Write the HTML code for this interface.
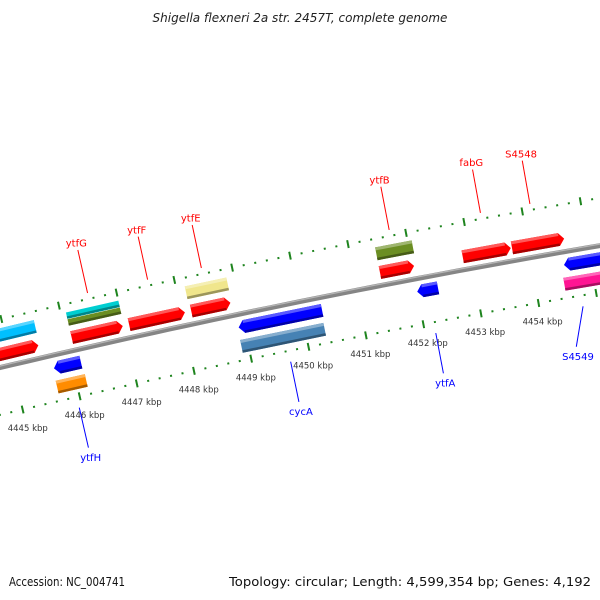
<!DOCTYPE html>
<html><head><meta charset="utf-8"><style>
html,body{margin:0;padding:0;background:#fff;width:600px;height:600px;overflow:hidden}
svg{display:block;font-family:"DejaVu Sans","Liberation Sans",sans-serif}
</style></head><body>
<svg id="map" width="600" height="600" viewBox="0 0 600 600" xmlns="http://www.w3.org/2000/svg">
<text x="300" y="22" text-anchor="middle" font-size="12" font-style="italic" fill="#222">Shigella flexneri 2a str. 2457T, complete genome</text>
<g id="track"></g>
<text x="9" y="586" font-size="12" fill="#111" textLength="116" lengthAdjust="spacingAndGlyphs">Accession: NC_004741</text>
<text x="591" y="586" text-anchor="end" font-size="12" fill="#111" textLength="362" lengthAdjust="spacingAndGlyphs">Topology: circular; Length: 4,599,354 bp; Genes: 4,192</text>
</svg>
<script>
// ---- data ----
const fwdStart = [4443.5, 4446.09, 4447.09, 4448.17, 4451.44, 4452.87, 4453.72];
const fwdEnd   = [4445.51, 4446.98, 4448.06, 4448.85, 4452.03, 4453.70, 4454.62];
const fwd2Start = [4443.5, 4446.09, 4446.09, 4448.15, 4451.44];
const fwd2End   = [4445.53, 4447.00, 4447.00, 4448.87, 4452.07];
const fwd2Color = ["#00bfff", "#00ced1", "#6b8e23", "#f0e68c", "#6b8e23"];
const fwd2Part  = ["full", "top", "bottom", "full", "full"];
const revStart = [4445.68, 4448.90, 4452.00, 4454.54];
const revEnd   = [4446.15, 4450.35, 4452.36, 4456.00];
const rev2Start = [4445.66, 4448.88, 4454.49];
const rev2End   = [4446.17, 4450.33, 4456.00];
const rev2Color = ["#ff8c00", "#4682b4", "#ff1493"];
const topLabels = ["ytfG", "ytfF", "ytfE", "ytfB", "fabG", "S4548"];
const topLabelKbp = [4446.52, 4447.56, 4448.49, 4451.73, 4453.30, 4454.15];
const botLabels = ["ytfH", "cycA", "ytfA", "S4549"];
const botLabelKbp = [4445.95, 4449.65, 4452.18, 4454.74];
const tickKbp = [4443,4444,4445,4446,4447,4448,4449,4450,4451,4452,4453,4454,4455,4456,4457];

// ---- geometry ----
const CX = 2205, CY = 9676, R0 = 9566;
function ang(k){ return (-12.900 + (k - 4446) * 0.3523) * Math.PI / 180; }
function P(k, off){ const a = ang(k), r = R0 + off; return [CX + r*Math.sin(a), CY - r*Math.cos(a)]; }
const NS = "http://www.w3.org/2000/svg";
const g = document.getElementById("track");
function mk(tag, attrs){ const e = document.createElementNS(NS, tag); for (const k in attrs) e.setAttribute(k, attrs[k]); g.appendChild(e); return e; }
function pts(a){ return a.map(p => p[0].toFixed(2)+","+p[1].toFixed(2)).join(" "); }
const AK = 0.09;

function shape(k1, k2, lo, hi, dir){
  if (dir === "r"){ const b = Math.max(k1, k2-AK); return [P(k1,lo),P(b,lo),P(k2,(lo+hi)/2),P(b,hi),P(k1,hi)]; }
  if (dir === "l"){ const b = Math.min(k2, k1+AK); return [P(k1,(lo+hi)/2),P(b,lo),P(k2,lo),P(k2,hi),P(b,hi)]; }
  return [P(k1,lo),P(k2,lo),P(k2,hi),P(k1,hi)];
}
function shade(c, f){
  const n = parseInt(c.slice(1),16); let r=n>>16, gg=(n>>8)&255, b=n&255;
  if (f < 1){ r*=f; gg*=f; b*=f; } else { const t=f-1; r+= (255-r)*t; gg+=(255-gg)*t; b+=(255-b)*t; }
  return "rgb("+Math.round(r)+","+Math.round(gg)+","+Math.round(b)+")";
}
function gene(name, k1, k2, c, h, color, dir){
  const lo = c - h/2, hi = c + h/2;
  const el = mk("polygon", {points: pts(shape(k1,k2,lo,hi,dir)), fill: color});
  
  
  const bk1 = dir==="l" ? k1+AK : k1, bk2 = dir==="r" ? k2-AK : k2;
  if (h > 8){
    const hl = mk("polygon", {points: pts([P(bk1,hi-3),P(bk2,hi-3),P(bk2,hi),P(bk1,hi)]), fill: shade(color,1.35)});
    
    
  }
  const sh = mk("polygon", {points: pts([P(bk1,lo),P(bk2,lo),P(bk2,lo+2.5),P(bk1,lo+2.5)]), fill: shade(color,0.65)});
  
  
}

// backbone
const bb = []; for (let k = 4441; k <= 4459; k += 0.25) bb.push(P(k, 0));
const bbl = mk("polyline", {points: pts(bb), fill:"none", stroke:"#858585", "stroke-width":5});


const bbt = []; for (let k = 4441; k <= 4459; k += 0.25) bbt.push(P(k, 1.5));
const bbh = mk("polyline", {points: pts(bbt), fill:"none", stroke:"#b5b5b5", "stroke-width":1.3});



// rulers
[47, -46].forEach(function(off){
  for (let i = 0; i < tickKbp.length; i++){
    const k = tickKbp[i];
    const a = P(k, off-4), b = P(k, off+4);
    const t = mk("line", {x1:a[0],y1:a[1],x2:b[0],y2:b[1],stroke:"#1e841e","stroke-width":2});
    
    
    for (let j = 1; j < 5; j++){
      const c1 = P(k + j*0.2, off-1), c2 = P(k + j*0.2, off+1);
      const d = mk("line", {x1:c1[0],y1:c1[1],x2:c2[0],y2:c2[1],stroke:"#1e841e","stroke-width":2});
      
      
    }
    if (off < 0){
      const p = P(k, -64);
      if (p[0] + 24 > 600 || p[0] - 24 < -10) continue;
      const lt = mk("text", {x:p[0]+1, y:p[1]+4, "text-anchor":"middle", "font-size":8.5, fill:"#333"});
      lt.textContent = k + " kbp";
      
      
    }
  }
});

// genes
for (let i = 0; i < fwdStart.length; i++) gene('forward-gene', fwdStart[i], fwdEnd[i], 13, 13, "#ff0000", "r");
for (let i = 0; i < fwd2Start.length; i++){
  let c = 32, h = 13;
  if (fwd2Part[i] === "top"){ c = 35.5; h = 6.5; } else if (fwd2Part[i] === "bottom"){ c = 28.5; h = 6.5; }
  gene('forward-feature', fwd2Start[i], fwd2End[i], c, h, fwd2Color[i], "");
}
for (let i = 0; i < revStart.length; i++) gene('reverse-gene', revStart[i], revEnd[i], -13, 13, "#0000ff", "l");
for (let i = 0; i < rev2Start.length; i++) gene('reverse-feature', rev2Start[i], rev2End[i], -32, 13, rev2Color[i], "");

// labels
for (let i = 0; i < topLabels.length; i++){
  const k = topLabelKbp[i], a = P(k, 53), b = P(k, 97), t = P(k, 104);
  const ln = mk("line", {x1:a[0],y1:a[1],x2:b[0],y2:b[1],stroke:"#ff0000","stroke-width":1});
  
  
  const tx = mk("text", {x:t[0], y:t[1]+3.5, "text-anchor":"middle", "font-size":10, fill:"#ff0000"});
  tx.textContent = topLabels[i];
  
  
}
for (let i = 0; i < botLabels.length; i++){
  const k = botLabelKbp[i], a = P(k, -57), b = P(k, -98), t = P(k, -108);
  const maxX = 578;
  const sh = t[0] > maxX ? t[0] - maxX : 0;
  const ln = mk("line", {x1:a[0],y1:a[1],x2:b[0]-sh,y2:b[1],stroke:"#0000ff","stroke-width":1});
  
  
  const tx = mk("text", {x:t[0]-sh, y:t[1]+3.5, "text-anchor":"middle", "font-size":10, fill:"#0000ff"});
  tx.textContent = botLabels[i];
  
  
}
</script>
</body></html>
